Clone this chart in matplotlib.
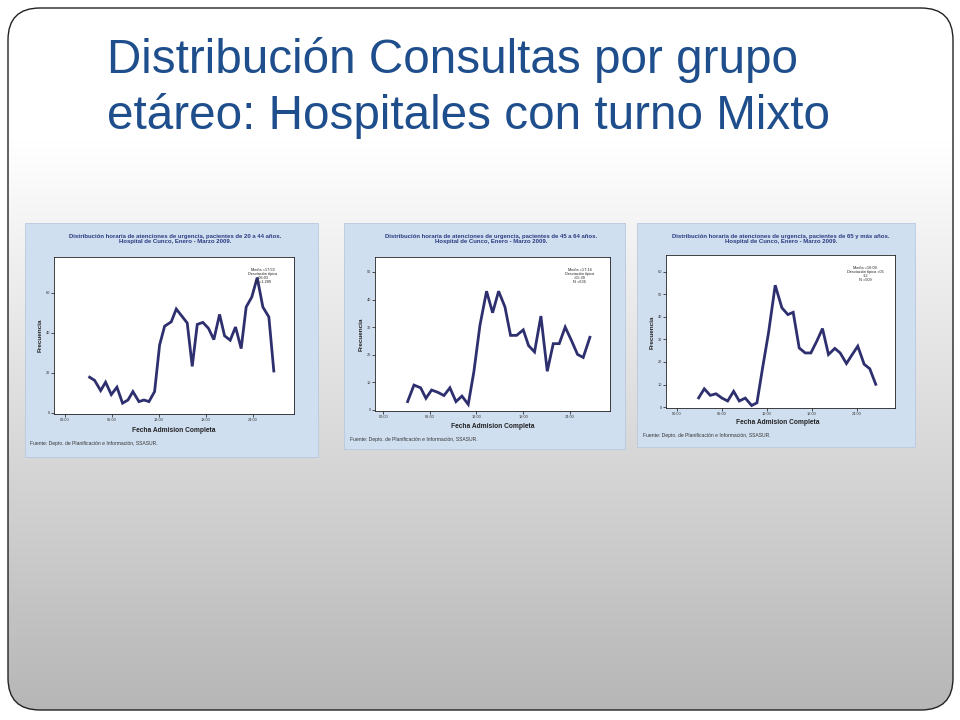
import matplotlib
matplotlib.use("Agg")
import matplotlib.pyplot as plt
import numpy as np
from matplotlib.patches import FancyBboxPatch, Rectangle

plt.rcParams['font.family'] = ['Liberation Sans', 'DejaVu Sans']

# --- data (hour of day, frequency) ---
hours_20_44 = [3.19, 3.83, 4.60, 5.23, 5.96, 6.68, 7.40, 8.09, 8.72, 9.49, 10.13, 10.77,
               11.49, 12.13, 12.77, 13.62, 14.26, 14.98, 15.66, 16.30, 16.94, 17.66, 18.38,
               19.06, 19.79, 20.43, 21.15, 21.83, 22.55, 23.19, 23.91, 24.60, 25.32, 26.09, 26.72]
freq_20_44 = [17.9, 16.3, 11.2, 15.4, 9.2, 12.9, 4.9, 6.5, 10.7, 5.7, 6.5, 5.7,
              10.7, 34.0, 43.4, 45.6, 52.0, 48.4, 45.0, 23.3, 44.3, 45.3, 42.3,
              36.7, 49.3, 38.6, 36.4, 43.0, 32.2, 53.0, 58.0, 67.7, 53.0, 48.0, 21.0]

hours_45_64 = [3.13, 3.95, 4.81, 5.49, 6.22, 7.00, 7.81, 8.58, 9.36, 10.13, 10.94, 11.67,
               12.45, 13.30, 14.08, 14.85, 15.67, 16.39, 17.17, 18.03, 18.71, 19.48, 20.30,
               21.12, 21.89, 22.66, 23.43, 24.21, 25.02, 25.75, 26.61]
freq_45_64 = [3.0, 9.0, 8.0, 4.2, 7.2, 6.4, 5.2, 8.0, 3.0, 5.0, 2.0, 13.9,
              30.7, 43.0, 35.2, 43.0, 37.3, 27.0, 27.0, 29.0, 23.3, 21.0, 34.0,
              14.0, 24.0, 24.0, 30.0, 25.3, 20.1, 19.0, 26.3]

hours_65 = [2.89, 3.64, 4.44, 5.20, 6.00, 6.76, 7.56, 8.31, 9.11, 9.96, 10.67, 11.42,
            12.22, 13.11, 14.00, 14.80, 15.51, 16.31, 17.11, 17.87, 18.67, 19.42, 20.22,
            21.07, 21.78, 22.62, 23.33, 24.13, 24.98, 25.73, 26.53]
freq_65 = [4.1, 8.1, 5.2, 5.9, 4.0, 2.7, 7.0, 2.7, 4.0, 0.7, 1.9, 17.3,
           33.0, 54.0, 44.0, 41.0, 42.0, 26.2, 24.0, 24.0, 29.3, 34.8, 23.3,
           26.0, 24.0, 19.3, 23.0, 27.0, 19.0, 17.0, 10.1]

x_ticks = [0, 6, 12, 18, 24]
x_ticklabels = ['00:00', '06:00', '12:00', '18:00', '24:00']

chart_titles = [
    'Distribución horaria de atenciones de urgencia, pacientes de 20 a 44 años.\nHospital de Cunco, Enero - Marzo 2009.',
    'Distribución horaria de atenciones de urgencia, pacientes de 45 a 64 años.\nHospital de Cunco, Enero - Marzo 2009.',
    'Distribución horaria de atenciones de urgencia, pacientes de 65 y más años.\nHospital de Cunco, Enero - Marzo 2009.',
]
stats_texts = [
    'Media =17:59\nDesviación típica\n=06:03\nN =1.289',
    'Media =17:16\nDesviación típica\n=05:39\nN =636',
    'Media =16:09\nDesviación típica =05\n:12\nN =509',
]
y_ticks = [[0, 20, 40, 60], [0, 10, 20, 30, 40, 50], [0, 10, 20, 30, 40, 50, 60]]
slide_title = 'Distribución Consultas por grupo\netáreo: Hospitales con turno Mixto'
footer = 'Fuente: Depto. de Planificación e Información, SSASUR.'

W, H = 960, 720
fig = plt.figure(figsize=(9.6, 7.2), dpi=100)

# slide background (pixel coords)
bg = fig.add_axes([0, 0, 1, 1])
bg.set_xlim(0, W)
bg.set_ylim(H, 0)
bg.axis('off')
grad = np.ones((H, 1))
yy = np.arange(H)
grad[:, 0] = np.where(yy < 140, 1.0, 1.0 - 0.29 * (yy - 140) / (H - 140))
border = FancyBboxPatch((8, 8), 945, 702, boxstyle='round,pad=0,rounding_size=32',
                        fill=False, ec='#222222', lw=1.0, zorder=1)
bg.add_patch(border)
im = bg.imshow(np.dstack([grad, grad, grad]), extent=[0, W, H, 0], aspect='auto', zorder=0)
im.set_clip_path(border)
bg.text(107, 88, slide_title, fontsize=34.3, color='#1f4e8c', va='center', ha='left',
        linespacing=1.29, zorder=2)

panels = [
    dict(box=(25, 223, 318, 457), plot=(54, 257, 294, 414), xlim=(-1.36, 29.3), ylim=(-0.5, 78),
         hours=hours_20_44, freq=freq_20_44, title_x=175, ylab=(40, 335), xlab=(174, 431),
         foot=(30, 443)),
    dict(box=(344, 223, 625, 449), plot=(375, 257, 610, 411), xlim=(-1.07, 29.2), ylim=(-0.4, 55.4),
         hours=hours_45_64, freq=freq_45_64, title_x=491, ylab=(361, 334), xlab=(493, 426),
         foot=(350, 439)),
    dict(box=(637, 223, 915, 447), plot=(666, 255, 895, 408), xlim=(-1.47, 29.1), ylim=(-0.4, 67.4),
         hours=hours_65, freq=freq_65, title_x=781, ylab=(652, 332), xlab=(778, 423),
         foot=(643, 435)),
]

for i, p in enumerate(panels):
    x0, y0, x1, y1 = p['box']
    bg.add_patch(Rectangle((x0, y0), x1 - x0, y1 - y0, fc='#d0dff0', ec='#b8c8dc', lw=0.6, zorder=2))
    bg.text(p['title_x'], 239, chart_titles[i], fontsize=4.3, color='#2b3a80', ha='center',
            va='center', fontweight='bold', linespacing=1.05, zorder=3)
    bg.text(p['ylab'][0], p['ylab'][1], 'Frecuencia', fontsize=4.6, rotation=90, ha='center',
            va='center', fontweight='bold', color='#222222', zorder=3)
    bg.text(p['xlab'][0], p['xlab'][1], 'Fecha Admision Completa', fontsize=4.8, ha='center',
            va='center', fontweight='bold', color='#222222', zorder=3)
    bg.text(p['foot'][0], p['foot'][1], footer, fontsize=3.6, ha='left', va='center',
            color='#333333', zorder=3)

    px0, py0, px1, py1 = p['plot']
    ax = fig.add_axes([px0 / W, 1 - py1 / H, (px1 - px0) / W, (py1 - py0) / H])
    ax.set_facecolor('white')
    ax.plot(p['hours'], p['freq'], color='#2e2f6e', lw=2.0, solid_joinstyle='miter')
    ax.set_xlim(*p['xlim'])
    ax.set_ylim(*p['ylim'])
    ax.set_xticks(x_ticks)
    ax.set_xticklabels(x_ticklabels)
    ax.set_yticks(y_ticks[i])
    ax.tick_params(labelsize=2.8, length=2, width=0.6, pad=1, colors='#333333')
    for s in ax.spines.values():
        s.set_linewidth(0.6)
        s.set_color('#222222')
    ax.text(0.87, 0.93, stats_texts[i], transform=ax.transAxes, fontsize=2.8, ha='center',
            va='top', linespacing=1.0, color='#222222')

fig.savefig('out.png', dpi=100)
